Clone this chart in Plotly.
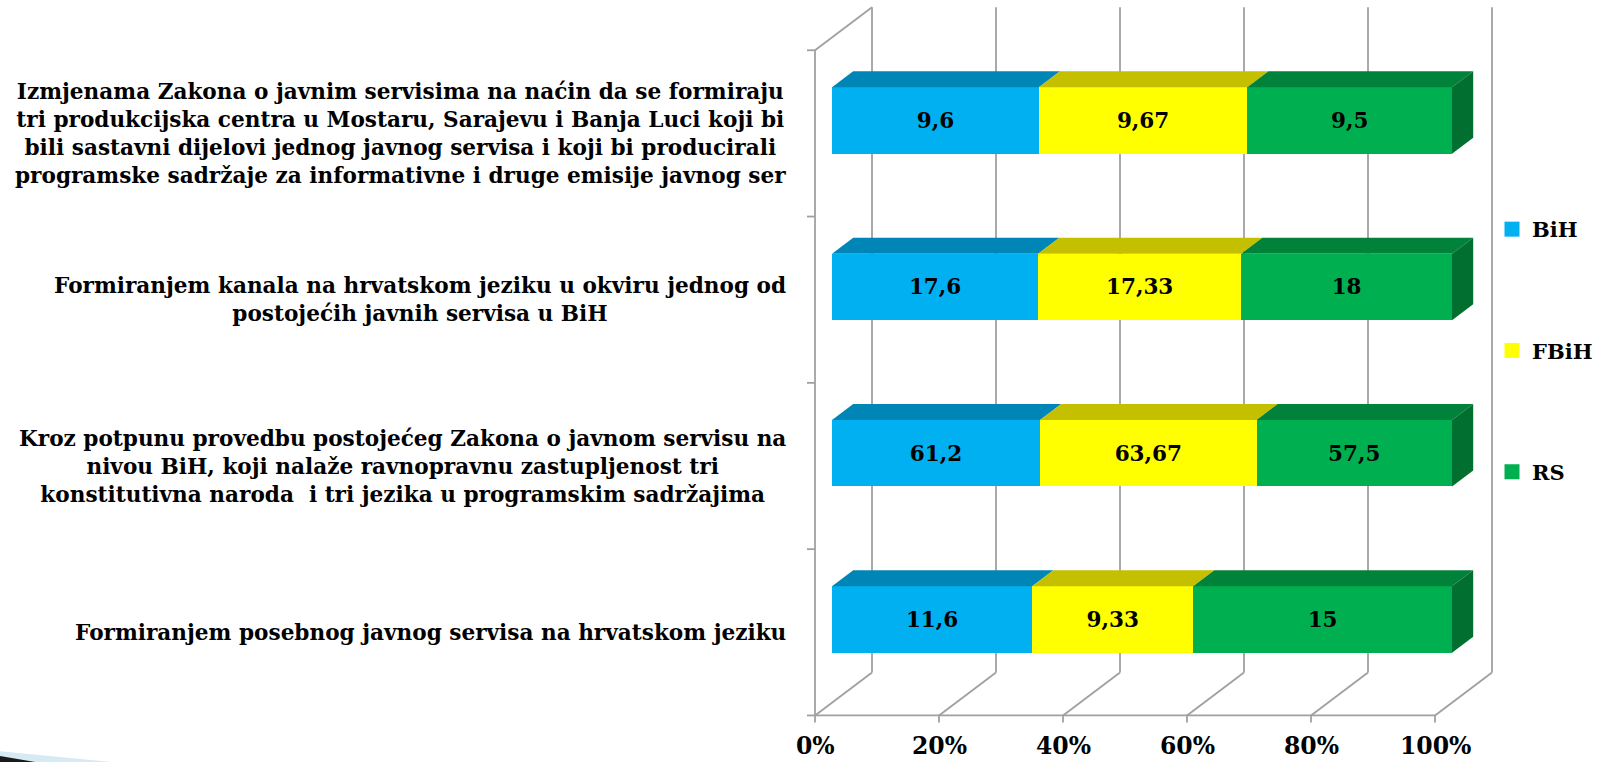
import plotly.graph_objects as go

# Categories listed bottom-to-top, with manual line breaks as in the wrapped axis labels
categories = [
    "Formiranjem posebnog javnog servisa na hrvatskom jeziku",
    "Kroz potpunu provedbu postojećeg Zakona o javnom servisu na<br>"
    "nivou BiH, koji nalaže ravnopravnu zastupljenost tri<br>"
    "konstitutivna naroda  i tri jezika u programskim sadržajima",
    "Formiranjem kanala na hrvatskom jeziku u okviru jednog od<br>"
    "postojećih javnih servisa u BiH",
    "Izmjenama Zakona o javnim servisima na naćin da se formiraju<br>"
    "tri produkcijska centra u Mostaru, Sarajevu i Banja Luci koji bi<br>"
    "bili sastavni dijelovi jednog javnog servisa i koji bi producirali<br>"
    "programske sadržaje za informativne i druge emisije javnog ser",
]

bih = [11.6, 61.2, 17.6, 9.6]
fbih = [9.33, 63.67, 17.33, 9.67]
rs = [15, 57.5, 18, 9.5]

series_names = ["BiH", "FBiH", "RS"]
series_values = [bih, fbih, rs]

tick_values = [0, 20, 40, 60, 80, 100]
tick_labels = ["0%", "20%", "40%", "60%", "80%", "100%"]

# Colours: front face, top face, right side face
front_colors = ["#00B0F0", "#FFFF00", "#00B050"]
top_colors = ["#0086B6", "#C4C000", "#00823A"]
side_color = "#006F2F"
grid_color = "#A0A0A0"

FONT = "DejaVu Serif"

# Fake-3D geometry (in data units): x in percent, y in category units
W, H = 1598, 762
PX_PER_PCT = 6.2
PX_PER_CAT = 166.3
X0_PX = 832.0          # pixel of 0 % on the bars' front face
Y0_PX = 619.5          # pixel of the bottom bar centre
DEPTH_X = 57 / PX_PER_PCT     # full floor depth, horizontal shift
DEPTH_Y = 43 / PX_PER_CAT     # full floor depth, vertical shift
BAR_FRONT = 0.298             # depth position of bar front faces
BAR_DEPTH = 0.372             # bar thickness along depth
BAR_WIDTH = 0.4

n = len(categories)
FLOOR = -0.5
TOP = n - 0.5


def proj(pct, yv, d):
    """Map (percent, level on the bar front plane, depth 0..1) to data coordinates."""
    return pct + DEPTH_X * (d - BAR_FRONT), yv + DEPTH_Y * (d - BAR_FRONT)


x_range = [-X0_PX / PX_PER_PCT, (W - X0_PX) / PX_PER_PCT]
y_range = [(Y0_PX - H) / PX_PER_CAT, Y0_PX / PX_PER_CAT]

fig = go.Figure()


def fmt(v):
    return f"{v:g}".replace(".", ",")


ypos = list(range(n))

# Front faces of the stacked bars, normalised to 100 % by plotly
for name, vals, col in zip(series_names, series_values, front_colors):
    fig.add_trace(go.Bar(
        y=ypos, x=vals, orientation="h", name=name, width=BAR_WIDTH,
        marker=dict(color=col, line=dict(width=0)),
        text=[fmt(v) for v in vals], textposition="inside",
        insidetextanchor="middle", textangle=0, constraintext="none",
        textfont=dict(family=FONT, size=21.5, color="black", weight="bold"),
        showlegend=False, hoverinfo="skip",
    ))


def face(pts, color):
    fig.add_trace(go.Scatter(
        x=[p[0] for p in pts] + [pts[0][0]],
        y=[p[1] for p in pts] + [pts[0][1]],
        mode="lines", fill="toself", fillcolor=color,
        line=dict(width=0, color=color),
        showlegend=False, hoverinfo="skip",
    ))


# Top faces and the right-hand side face of each bar
back = BAR_FRONT + BAR_DEPTH
for i in range(n):
    total = sum(s[i] for s in series_values)
    top = i + BAR_WIDTH / 2
    bot = i - BAR_WIDTH / 2
    cum = 0.0
    for j, vals in enumerate(series_values):
        a = cum / total * 100
        cum += vals[i]
        b = cum / total * 100
        face([proj(a, top, BAR_FRONT), proj(b, top, BAR_FRONT),
              proj(b, top, back), proj(a, top, back)], top_colors[j])
    face([proj(100, bot, BAR_FRONT), proj(100, top, BAR_FRONT),
          proj(100, top, back), proj(100, bot, back)], side_color)

# Legend entries
for name, col in zip(series_names, front_colors):
    fig.add_trace(go.Scatter(
        x=[None], y=[None], mode="markers", name=name, legendgroup=name,
        marker=dict(symbol="square", size=15, color=col),
        hoverinfo="skip",
    ))

# Walls, floor and gridlines
shapes = []


def seg(p, q):
    shapes.append(dict(type="line", xref="x", yref="y", layer="below",
                       x0=p[0], y0=p[1], x1=q[0], y1=q[1],
                       line=dict(color=grid_color, width=1.8)))


for t in tick_values:
    seg(proj(t, FLOOR, 1), proj(t, TOP, 1))          # back wall gridline
    seg(proj(t, FLOOR, 0), proj(t, FLOOR, 1))        # floor gridline
    seg(proj(t, FLOOR, 0), proj(t, FLOOR - 7 / PX_PER_CAT, 0))  # tick mark
seg(proj(0, FLOOR, 0), proj(100, FLOOR, 0))          # floor front edge
seg(proj(0, FLOOR, 0), proj(0, TOP, 0))              # left wall front edge
seg(proj(0, TOP, 0), proj(0, TOP, 1))                # left wall top edge
for k in range(n + 1):
    seg(proj(0, FLOOR + k, 0), proj(-8 / PX_PER_PCT, FLOOR + k, 0))

# Slide corner ornament: a thin light-blue band over a dark wedge
shapes.append(dict(type="path", xref="paper", yref="paper", layer="above",
                   path="M 0,0.0 L 0,0.014 L 0.07,0 Z",
                   fillcolor="#D6EAF4", line=dict(width=0)))
shapes.append(dict(type="path", xref="paper", yref="paper", layer="above",
                   path="M 0,0.0 L 0,0.008 L 0.022,0 Z",
                   fillcolor="#1A1A1A", line=dict(width=0)))

annotations = []
for t, lab in zip(tick_values, tick_labels):
    x, _ = proj(t, FLOOR, 0)
    annotations.append(dict(x=x, y=y_range[0], xref="x", yref="y", text=lab,
                            showarrow=False, xanchor="center", yanchor="bottom",
                            font=dict(family=FONT, size=23.5, color="black", weight="bold")))

for i, cat in enumerate(categories):
    _, yc = proj(0, i, 0)
    annotations.append(dict(x=788 / W, y=yc, xref="paper", yref="y", text=cat,
                            showarrow=False, xanchor="right", yanchor="middle",
                            align="center",
                            font=dict(family=FONT, size=21.6, color="black", weight="bold")))

fig.update_layout(
    width=W, height=H,
    margin=dict(l=0, r=0, t=0, b=0),
    paper_bgcolor="white", plot_bgcolor="white",
    barmode="stack", barnorm="percent",
    xaxis=dict(range=x_range, visible=False, fixedrange=True),
    yaxis=dict(range=y_range, visible=False, fixedrange=True),
    shapes=shapes, annotations=annotations,
    showlegend=True,
    legend=dict(x=1492 / W, y=1 - 209 / H, xanchor="left", yanchor="top",
                tracegroupgap=91, bgcolor="rgba(0,0,0,0)",
                font=dict(family=FONT, size=21, color="black", weight="bold"),
                itemclick=False, itemdoubleclick=False),
    hovermode=False,
)

fig.write_html("out.html")
